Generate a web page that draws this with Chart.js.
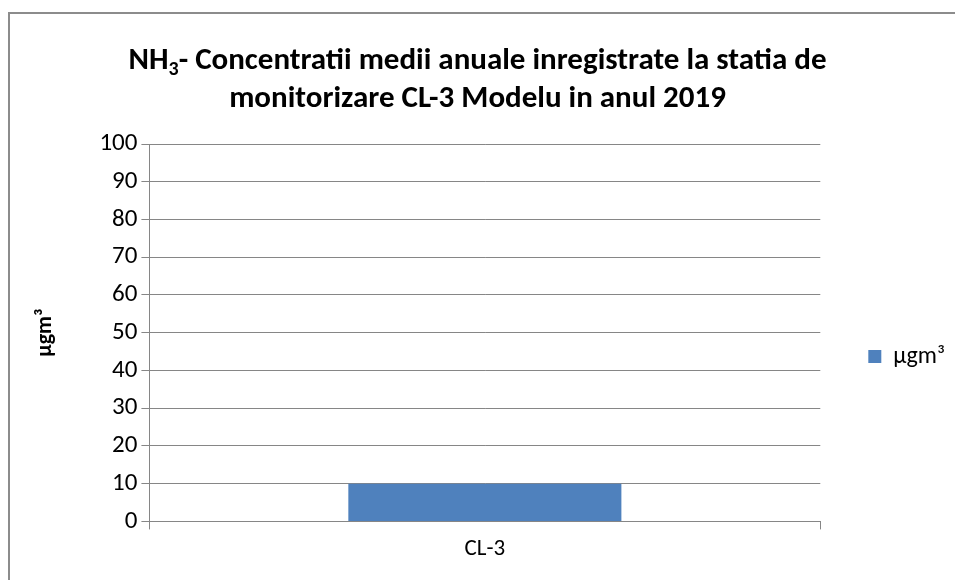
<!DOCTYPE html>
<html lang="ro">
<head>
  <meta charset="UTF-8">
  <title>NH3 CL-3 Modelu 2019</title>
  <script src="https://cdn.jsdelivr.net/npm/chart.js"></script>
  <style>
    html, body {
      margin: 0;
      padding: 0;
      background: #fff;
    }
    #wrap {
      width: 955px;
      height: 580px;
    }
  </style>
</head>
<body>
  <div id="wrap">
    <canvas id="chartCanvas" width="955" height="580"></canvas>
  </div>

  <script>
    // date
    const categories = ['CL-3'];
    const seriesName = 'µgm³';
    const values = [10];
    const yMin = 0;
    const yMax = 100;
    const yStep = 10;

    const titleLine1 = ['NH', '3', '- Concentratii medii anuale inregistrate la statia de'];
    const titleLine2 = 'monitorizare CL-3 Modelu in anul 2019';

    const fontFam = 'Carlito, Calibri, Lato, sans-serif';
    const gridColor = '#868686';

    // titlul cu indice (NH3) + chenarul exterior
    const titlePlugin = {
      id: 'titlePlugin',
      beforeDraw(chart) {
        const c = chart.ctx;
        c.save();
        c.strokeStyle = '#8c8c8c';
        c.lineWidth = 2;
        c.beginPath();
        c.moveTo(9, 600);
        c.lineTo(9, 13);
        c.lineTo(960, 13);
        c.stroke();
        c.restore();
      },
      afterDraw(chart) {
        const c = chart.ctx;
        const cx = chart.width / 2;
        const big = 'bold 31px ' + fontFam;
        const small = 'bold 20px ' + fontFam;
        c.save();
        c.fillStyle = '#000';
        c.textBaseline = 'alphabetic';
        c.font = big;
        const w1 = c.measureText(titleLine1[0]).width;
        const w3 = c.measureText(titleLine1[2]).width;
        c.font = small;
        const w2 = c.measureText(titleLine1[1]).width;
        let x = cx - (w1 + w2 + w3) / 2;
        const y1 = 69;
        c.textAlign = 'left';
        c.font = big;
        c.fillText(titleLine1[0], x, y1);
        x += w1;
        c.font = small;
        c.fillText(titleLine1[1], x, y1 + 6);
        x += w2;
        c.font = big;
        c.fillText(titleLine1[2], x, y1);
        c.textAlign = 'center';
        c.fillText(titleLine2, cx, 107);
        c.restore();
      }
    };

    const ctx = document.getElementById('chartCanvas').getContext('2d');
    const chart = new Chart(ctx, {
      type: 'bar',
      data: {
        labels: categories,
        datasets: [{
          label: seriesName,
          data: values,
          backgroundColor: '#4F81BD',
          borderWidth: 0,
          barPercentage: 0.407,
          categoryPercentage: 1
        }]
      },
      options: {
        responsive: false,
        animation: false,
        devicePixelRatio: 1,
        layout: {
          padding: { top: 144, right: 0, bottom: 11, left: 13 }
        },
        plugins: {
          title: { display: false },
          tooltip: { enabled: false },
          legend: {
            position: 'right',
            labels: {
              boxWidth: 13,
              boxHeight: 13,
              padding: 48,
              color: '#000',
              font: { family: fontFam, size: 24 }
            }
          }
        },
        scales: {
          x: {
            grid: {
              drawOnChartArea: false,
              drawTicks: true,
              tickLength: 8,
              color: gridColor
            },
            border: { color: gridColor },
            ticks: {
              color: '#000',
              font: { family: fontFam, size: 23 },
              padding: 6
            }
          },
          y: {
            min: yMin,
            max: yMax,
            grid: {
              color: gridColor,
              tickLength: 8
            },
            border: { color: gridColor },
            ticks: {
              stepSize: yStep,
              color: '#000',
              font: { family: fontFam, size: 25 },
              padding: 4
            },
            title: {
              display: true,
              text: seriesName,
              color: '#000',
              font: { family: fontFam, size: 22, weight: 'bold' },
              padding: { top: 19, bottom: 37 }
            }
          }
        }
      },
      plugins: [titlePlugin]
    });
  </script>
</body>
</html>
